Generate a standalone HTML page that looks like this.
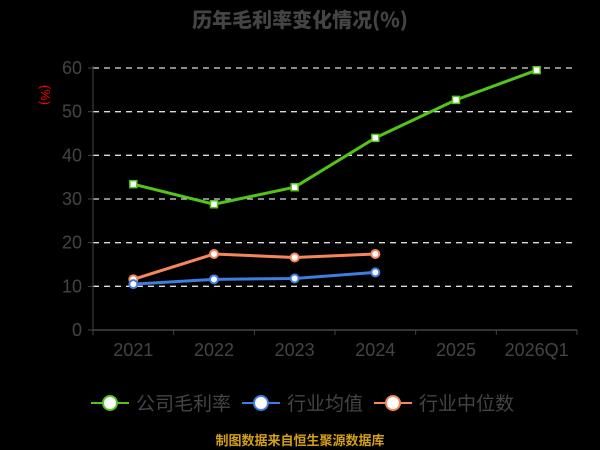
<!DOCTYPE html>
<html><head><meta charset="utf-8">
<style>
html,body{margin:0;padding:0;background:#000;width:600px;height:450px;overflow:hidden}
svg{display:block;font-family:"Liberation Sans","Noto Sans CJK SC",sans-serif}
</style></head>
<body>
<svg id="chart" width="600" height="450" viewBox="0 0 600 450">
<rect x="0" y="0" width="600" height="450" fill="#000"/>
<text x="300" y="27" text-anchor="middle" font-size="20" font-weight="900" fill="#444" style="font-family:'Noto Sans CJK SC',sans-serif">历年毛利率变化情况(%)</text>
<text x="41" y="95" text-anchor="middle" font-size="13" fill="#f00" transform="rotate(90 41 95)">(%)</text>
<g id="grid"></g><g id="axes"></g><g id="series"></g>
<g>
 <g>
  <line x1="91" y1="403" x2="129" y2="403" stroke="#52c41a" stroke-width="2"/>
  <circle cx="110" cy="403" r="7" fill="#fff" stroke="#52c41a" stroke-width="2"/>
  <text x="136" y="410" font-size="19" fill="#444">公司毛利率</text>
 </g>
 <g>
  <line x1="242" y1="403" x2="280" y2="403" stroke="#3f7de0" stroke-width="2"/>
  <circle cx="261" cy="403" r="7" fill="#fff" stroke="#3f7de0" stroke-width="2"/>
  <text x="287" y="410" font-size="19" fill="#444">行业均值</text>
 </g>
 <g>
  <line x1="374" y1="403" x2="412" y2="403" stroke="#f5875a" stroke-width="2"/>
  <circle cx="393" cy="403" r="7" fill="#fff" stroke="#f5875a" stroke-width="2"/>
  <text x="419" y="410" font-size="19" fill="#444">行业中位数</text>
 </g>
</g>
<text x="300" y="445" text-anchor="middle" font-size="13" font-weight="bold" fill="#d4a017">制图数据来自恒生聚源数据库</text>
</svg>
<script>
const categories=["2021","2022","2023","2024","2025","2026Q1"];
const companyMargin=[33.4,28.8,32.7,44.0,52.7,59.5];
const industryAverage=[10.5,11.6,11.8,13.2];
const industryMedian=[11.6,17.4,16.6,17.4];
const yTicks=[0,10,20,30,40,50,60];

const NS="http://www.w3.org/2000/svg";
const L=93,R=577,T=68,B=330,yMax=60;
const bw=(R-L)/categories.length;
function xs(i){return L+bw*(i+0.5);}
function ys(v){return B-(v/yMax)*(B-T);}
function mk(tag,attrs,parent){const e=document.createElementNS(NS,tag);for(const k in attrs)e.setAttribute(k,attrs[k]);parent.appendChild(e);return e;}
const grid=document.getElementById('grid'),axes=document.getElementById('axes'),series=document.getElementById('series');

yTicks.forEach(v=>{
  if(v>0){const g=mk('line',{x1:L,x2:R,y1:ys(v),y2:ys(v),stroke:'#ddd','stroke-width':1.3,'stroke-dasharray':'6,5'},grid);
  
  }
  const t=mk('text',{x:L-11,y:ys(v)+6,'text-anchor':'end','font-size':18,fill:'#444'},axes);
  t.textContent=v;
  
  
  mk('line',{x1:L-5,x2:L,y1:ys(v),y2:ys(v),stroke:'#444'},axes);
});
const ya=mk('line',{x1:L,x2:L,y1:T-2,y2:B,stroke:'#444','stroke-width':1},axes);


const xa=mk('line',{x1:L,x2:R,y1:B,y2:B,stroke:'#444','stroke-width':1.5},axes);


for(let i=0;i<=categories.length;i++){mk('line',{x1:L+bw*i,x2:L+bw*i,y1:B,y2:B+5,stroke:'#444'},axes);}
categories.forEach((c,i)=>{
  const t=mk('text',{x:xs(i),y:B+26,'text-anchor':'middle','font-size':18,fill:'#444'},axes);
  t.textContent=c;
  
  
});
function drawSeries(vals,color,name,square){
  const g=mk('g',{},series);
  
  
  mk('polyline',{points:vals.map((v,i)=>xs(i)+','+ys(v)).join(' '),fill:'none',stroke:color,'stroke-width':3,'stroke-linejoin':'round'},g);
  vals.forEach((v,i)=>{
    let p;
    if(square){p=mk('rect',{x:xs(i)-3.5,y:ys(v)-3.5,width:7,height:7,fill:'#fff',stroke:color,'stroke-width':1.5},g);}
    else{p=mk('circle',{cx:xs(i),cy:ys(v),r:4,fill:'#fff',stroke:color,'stroke-width':2},g);}
    
    
  });
}
drawSeries(industryMedian,'#f5875a','industry-median-line',false);
drawSeries(industryAverage,'#3f7de0','industry-average-line',false);
drawSeries(companyMargin,'#52c41a','company-margin-line',true);
</script>
</body></html>
